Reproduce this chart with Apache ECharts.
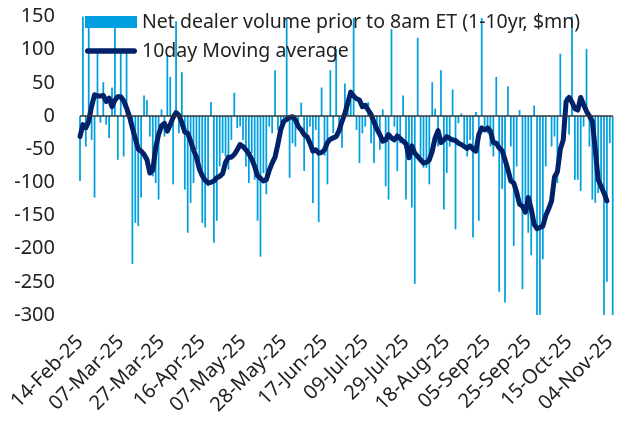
<!DOCTYPE html>
<html>
<head>
<meta charset="utf-8">
<script src="https://cdn.jsdelivr.net/npm/echarts@6/dist/echarts.min.js"></script>
<style>
  html, body { margin: 0; padding: 0; background: #fff; }
  #chart { width: 619px; height: 421px; }
</style>
</head>
<body>
<div id="chart"></div>
<script>
  // trading days: weekdays from startDay, minus these holidays
  const startDay = '2025-02-14';
  const dayCount = 184;
  const holidays = ['2025-02-17', '2025-04-18', '2025-05-26', '2025-06-19', '2025-07-04'];

  const tickLabels = ['14-Feb-25', '07-Mar-25', '27-Mar-25', '16-Apr-25', '07-May-25', '28-May-25', '17-Jun-25',
    '09-Jul-25', '29-Jul-25', '18-Aug-25', '05-Sep-25', '25-Sep-25', '15-Oct-25', '04-Nov-25'];

  // Net dealer volume prior to 8am ET (1-10yr, $mn)
  const dealerVolume = [
    -98, 150, -46, 150, -36, -123, 101, -10, 51, -13, -33, 43, 139, -66, 99, -61, 99, -10, -223, -161,
    -166, -123, 31, 24, -31, -91, -101, -126, 10, -31, 91, 59, -103, 143, -26, 66, -111, -176, -131, -101,
    -51, -86, -161, -168, -106, 21, -191, -158, -76, -56, -61, -81, -36, 35, -18, -16, -36, -76, -101, -56,
    -96, -158, -212, -86, -118, -16, -26, 69, -21, -11, -8, 148, -93, -41, -46, -21, 20, -83, -26, -16,
    -131, -21, -160, 43, -60, -103, 69, -26, 101, -21, -48, 49, 24, 24, 148, -21, -71, -26, -16, 21,
    -41, -71, -26, -51, 10, -106, -126, 131, -16, -83, -41, 31, -126, -61, -138, -253, 118, -61, -78, -78,
    -103, 51, 11, -46, 69, -141, -86, -46, 40, -171, -11, 4, -46, -61, -36, -183, 6, -158, 148, -16,
    -26, -46, -61, 59, -265, -110, -281, 45, -46, -196, -76, 9, -261, -131, -176, -210, 16, -300, -300, -216,
    -76, 1, -46, -31, -101, 94, -21, 29, -28, 150, -96, -96, -113, -16, 101, -46, -126, -131, -116, -110,
    -300, -250, -41, -300
  ];

  // 10day Moving average
  const movingAvg = [
    -31, -13, -18, -8, 15, 32, 30, 30, 31, 22, 27, 14, 24, 29, 29, 23, 12, -1, -18, -34,
    -50, -53, -58, -66, -86, -82, -48, -28, -15, -11, -23, -13, -2, 5, 1, -10, -24, -26, -38, -51,
    -62, -80, -90, -97, -101, -100, -98, -93, -91, -87, -70, -62, -62, -58, -51, -43, -46, -51, -57, -65,
    -76, -90, -94, -98, -96, -82, -71, -62, -42, -20, -8, -5, -2, -1, -6, -16, -21, -28, -31, -41,
    -53, -51, -56, -55, -51, -40, -35, -33, -31, -22, -8, 4, 20, 36, 30, 26, 24, 14, 16, 9,
    2, -9, -20, -28, -38, -36, -28, -33, -36, -30, -34, -38, -42, -63, -45, -56, -61, -66, -71, -70,
    -66, -53, -33, -22, -40, -36, -31, -34, -36, -37, -41, -43, -46, -49, -45, -50, -53, -28, -18, -21,
    -18, -23, -40, -41, -48, -52, -66, -81, -98, -101, -115, -133, -136, -145, -123, -140, -163, -170, -168, -166,
    -150, -140, -128, -92, -84, -50, -36, 22, 28, 21, 11, 9, 28, 17, 7, 0, -8, -50, -96, -106,
    -116, -128, null, null
  ];

  const months = ['Jan', 'Feb', 'Mar', 'Apr', 'May', 'Jun', 'Jul', 'Aug', 'Sep', 'Oct', 'Nov', 'Dec'];
  function fmt(d) {
    const dd = String(d.getUTCDate()).padStart(2, '0');
    return dd + '-' + months[d.getUTCMonth()] + '-' + String(d.getUTCFullYear()).slice(2);
  }
  let days = [];
  let d = new Date(startDay + 'T00:00:00Z');
  while (days.length < dayCount) {
    const wd = d.getUTCDay();
    const iso = d.toISOString().slice(0, 10);
    if (wd !== 0 && wd !== 6 && holidays.indexOf(iso) < 0) days.push(fmt(d));
    d = new Date(d.getTime() + 86400000);
  }

  const font = 'Noto Sans';
  const myChart = echarts.init(document.getElementById('chart'));
  const option = {
    animation: false,
    textStyle: { fontFamily: font },
    grid: { left: 80, right: 3, top: 16.5, bottom: 106 },
    legend: {
      orient: 'vertical',
      left: 80,
      top: 7,
      itemWidth: 52,
      itemHeight: 12,
      itemGap: 9,
      textStyle: { fontFamily: font, fontSize: 19.5, color: '#222' },
      data: [
        { name: 'Net dealer volume prior to 8am ET (1-10yr, $mn)', icon: 'rect' },
        { name: '10day Moving average', icon: 'path://M3,0 L53,0 A3,3 0 0 1 53,6 L3,6 A3,3 0 0 1 3,0 Z' }
      ]
    },
    xAxis: {
      type: 'category',
      data: days,
      boundaryGap: false,
      axisLine: { show: false },
      axisTick: { show: false },
      axisLabel: {
        rotate: 45,
        margin: 24,
        fontSize: 20,
        color: '#222',
        fontFamily: font,
        interval: function (idx, val) { return tickLabels.indexOf(val) >= 0; }
      }
    },
    yAxis: {
      type: 'value',
      min: -300,
      max: 150,
      interval: 50,
      axisLine: { show: false },
      axisTick: { show: false },
      splitLine: { show: false },
      axisLabel: { fontSize: 20, color: '#222', margin: 25, fontFamily: font }
    },
    series: [
      {
        name: 'Net dealer volume prior to 8am ET (1-10yr, $mn)',
        type: 'bar',
        data: dealerVolume,
        barWidth: '60%',
        itemStyle: { color: '#009fdf' },
        markLine: {
          silent: true,
          symbol: ['none', 'none'],
          label: { show: false },
          lineStyle: { color: '#333', width: 1.5, type: 'solid' },
          data: [{ yAxis: 0 }]
        }
      },
      {
        name: '10day Moving average',
        type: 'line',
        data: movingAvg,
        showSymbol: false,
        symbol: 'none',
        itemStyle: { color: '#012169' },
        lineStyle: { color: '#012169', width: 5, cap: 'round', join: 'round' }
      }
    ]
  };
  myChart.setOption(option);
  window.addEventListener('resize', function () {
    myChart.resize();
  });
</script>
</body>
</html>
